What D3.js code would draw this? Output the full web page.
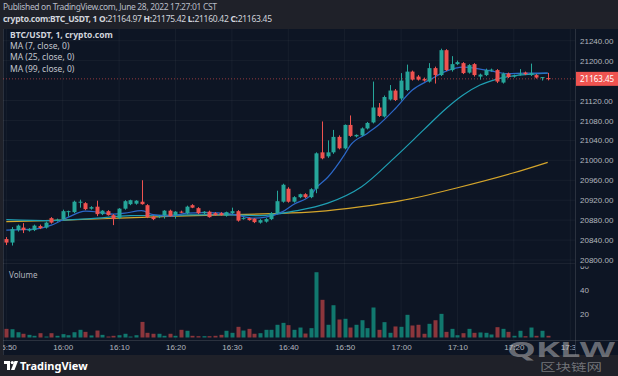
<!DOCTYPE html>
<html>
<head>
<meta charset="utf-8">
<script src="https://cdn.jsdelivr.net/npm/d3@7/dist/d3.min.js"></script>
<style>
body { margin: 0; background: #1f2129; }
svg { display: block; font-family: "Noto Sans", "DejaVu Sans", sans-serif; }
</style>
</head>
<body>
<script>
var w = 618;
var h = 376;

// 1 minute candles, first one at 15:50
var startTime = new Date(2022, 5, 28, 15, 50);

var opens = [20842,20835,20860,20865,20859,20860,20868,20865,20884,20879,
    20882,20896,20896,20916,20914,20903,20907,20892,20898,20890,
    20884,20903,20912,20913,20917,20910,20887,20886,20890,20899,
    20890,20897,20894,20910,20904,20894,20897,20894,20894,20889,
    20894,20898,20883,20884,20883,20875,20877,20882,20894,20917,
    20943,20917,20926,20932,20926,20943,21016,21008,21016,21047,
    21024,21071,21048,21050,21064,21076,21106,21088,21122,21140,
    21124,21141,21178,21168,21163,21158,21185,21171,21221,21181,
    21193,21195,21176,21193,21168,21171,21180,21181,21156,21174,
    21168,21172,21176,21171,21171,21165,21164.97];

var highs = [20846,20866,20871,20874,20864,20871,20871,20877,20886,20883,
    20901,20899,20919,20921,20916,20908,20919,20900,20900,20892,
    20904,20920,20921,20920,20960,20912,20889,20890,20900,20901,
    20898,20899,20909,20912,20906,20898,20899,20896,20896,20897,
    20905,20900,20886,20885,20884,20882,20884,20896,20939,20953,
    20946,20928,20933,20934,20944,21016,21078,21040,21061,21050,
    21072,21090,21052,21066,21077,21158,21115,21130,21151,21143,
    21175,21192,21180,21171,21166,21195,21188,21224,21223,21209,
    21200,21197,21193,21195,21174,21184,21184,21183,21176,21176,
    21172,21183,21178,21194,21173,21167,21175.42];

var lows = [20830,20829,20857,20854,20857,20858,20862,20863,20873,20877,
    20880,20887,20894,20905,20900,20901,20888,20890,20889,20870,
    20882,20901,20910,20911,20911,20884,20880,20884,20883,20887,
    20883,20894,20892,20904,20892,20892,20885,20889,20889,20887,
    20892,20877,20881,20879,20874,20873,20875,20880,20892,20915,
    20915,20915,20924,20924,20924,20934,21002,21005,21013,21022,
    21022,21047,21046,21048,21062,21074,21087,21086,21120,21119,
    21120,21139,21160,21160,21158,21156,21154,21169,21179,21178,
    21191,21173,21174,21168,21162,21169,21178,21155,21154,21165,
    21166,21170,21171,21169,21164,21160,21160.42];

var closes = [20835,20862,20869,20860,20862,20869,20864,20875,20875,20881,
    20898,20898,20917,20917,20902,20906,20892,20899,20890,20882,
    20903,20918,20920,20919,20912,20886,20882,20888,20899,20888,
    20897,20896,20907,20905,20894,20897,20886,20890,20890,20896,
    20898,20879,20884,20880,20876,20880,20882,20894,20918,20951,
    20917,20926,20932,20926,20942,21014,21004,21016,21047,21024,
    21071,21049,21051,21064,21075,21106,21089,21127,21140,21121,
    21160,21178,21162,21162,21160,21185,21171,21221,21181,21193,
    21197,21175,21191,21171,21172,21181,21182,21158,21174,21167,
    21170,21174,21173,21175,21166,21167,21163.45];

var volumes = [7.2,6.9,4.4,3.1,2.2,1.4,3.6,0.8,3.6,1.4,
    2.8,1.9,4.4,6.4,4.7,1.7,5.8,2.2,0.8,1.4,
    1.9,3.1,0.8,1.9,13,3.9,3.1,3.1,1.4,3.1,
    1.4,6.4,5.6,1.4,1.1,1.1,1.1,1.4,2.2,5.6,
    3.9,8.9,5.8,7.2,3.1,3.6,6.4,6.4,10.6,12.2,
    10.3,6.4,8.3,3.3,7.8,54.4,31.4,10.6,26.9,15,
    15.6,8.3,10.6,14.4,7.8,25,6.4,12.8,3.9,9.2,
    8.9,18.9,10,10.6,3.1,11.4,14.4,19.7,4.7,7.2,
    1.9,3.6,7.2,3.9,4.2,3.9,2.5,8.6,7.2,4.7,
    1.4,5.6,1.1,8.3,1.4,5.6,1.4];

// moving averages: [candle index, value]
var ma7 = [[0,20860],[5,20862],[8,20870],[11,20886],[14,20898],[17,20895],[19,20892],[21,20894],
    [24,20899],[26,20891],[29,20888],[32,20894],[35,20895],[40,20892],[44,20884],[46,20886],
    [49,20897],[51,20912],[54,20930],[55,20945],[57,20966],[60,21012],[61,21030],[64,21054],
    [66,21071],[69,21104],[72,21141],[75,21161],[78,21179],[81,21187],[84,21183],[86,21179],
    [89,21174],[92,21175],[96,21175]];
var ma25 = [[0,20881],[8,20879],[15,20883],[22,20889],[30,20890],[38,20891],[45,20889],[51,20898],
    [57,20914],[63,20947],[69,21007],[74,21061],[78,21104],[81,21131],[84,21151],[87,21163],
    [91,21171],[96,21175]];
var ma99 = [[0,20877],[10,20880],[20,20884],[30,20888],[40,20891],[47,20893],[55,20897],[63,20907],
    [70,20919],[80,20945],[90,20975],[96,20996]];

// 21160 sits under the last price label, so it is left out
var priceTicks = [20800,20840,20880,20920,20960,21000,21040,21080,21120,21200,21240];
var volumeTicks = [20, 40, 60];
var lastPrice = 21163.45;

var upColor = "#26a69a";
var downColor = "#ef5350";
var textColor = "#b2b5be";

var times = closes.map(function (d, i) {
    return d3.timeMinute.offset(startTime, i);
});

var svg = d3.select("body")
            .append("svg")
            .attr("width", w)
            .attr("height", h);

// backgrounds: header, chart and footer
svg.append("rect").attr("width", w).attr("height", h).attr("fill", "#1f2129");
svg.append("rect")
   .attr("x", 3).attr("y", 29)
   .attr("width", w - 3).attr("height", 326)
   .attr("fill", "#0d1524");

var defs = svg.append("defs");
defs.append("clipPath").attr("id", "plot")
    .append("rect").attr("x", 3).attr("y", 29).attr("width", 572).attr("height", 311);
defs.append("clipPath").attr("id", "timeclip")
    .append("rect").attr("x", 3).attr("y", 340).attr("width", 572).attr("height", 15);
// the top volume label is mostly hidden under the lowest price label
defs.append("clipPath").attr("id", "volclip")
    .append("rect").attr("x", 575).attr("y", 266.5).attr("width", 43).attr("height", 73);

// scales
var xScale = d3.scaleTime()
               .domain([times[0], times[times.length - 1]])
               .range([6.3, 547.7]);

var yScale = d3.scaleLinear()
               .domain([20800, 21240])
               .range([260, 40.7]);

var vScale = d3.scaleLinear()
               .domain([0, 60])
               .range([337.5, 265.5]);

// grid lines
var timeTicks = d3.timeMinute.every(10).range(times[0], d3.timeMinute.offset(times[0], 101));
var grid = svg.append("g").attr("clip-path", "url(#plot)");
grid.selectAll(".vg")
    .data(timeTicks)
    .enter()
    .append("line")
    .attr("x1", function (d) { return xScale(d); })
    .attr("x2", function (d) { return xScale(d); })
    .attr("y1", 29).attr("y2", 340)
    .attr("stroke", "rgba(255,255,255,0.045)");
grid.selectAll(".hg")
    .data(priceTicks)
    .enter()
    .append("line")
    .attr("x1", 3).attr("x2", 575)
    .attr("y1", function (d) { return yScale(d); })
    .attr("y2", function (d) { return yScale(d); })
    .attr("stroke", "rgba(255,255,255,0.045)");

// pane separators
svg.append("line").attr("x1", 3).attr("x2", 575).attr("y1", 263.5).attr("y2", 263.5).attr("stroke", "rgba(255,255,255,0.06)");
svg.append("line").attr("x1", 575.5).attr("x2", 575.5).attr("y1", 29).attr("y2", 355).attr("stroke", "rgba(255,255,255,0.12)");
svg.append("line").attr("x1", 3).attr("x2", 618).attr("y1", 340.5).attr("y2", 340.5).attr("stroke", "rgba(255,255,255,0.12)");
svg.append("line").attr("x1", 3.5).attr("x2", 3.5).attr("y1", 29).attr("y2", 355).attr("stroke", "rgba(255,255,255,0.12)");

var plot = svg.append("g").attr("clip-path", "url(#plot)");

// volume bars
plot.selectAll(".vol")
    .data(volumes)
    .enter()
    .append("rect")
    .attr("x", function (d, i) { return Math.round(xScale(times[i])) - 1.5; })
    .attr("y", function (d) { return vScale(d); })
    .attr("width", 4)
    .attr("height", function (d) { return vScale(0) - vScale(d); })
    .attr("fill", function (d, i) {
        return closes[i] >= opens[i] ? "#11786e" : "#8c363c";
    });

// moving average lines
var maLine = d3.line()
               .x(function (d) { return xScale(times[d[0]]); })
               .y(function (d) { return yScale(d[1]); })
               .curve(d3.curveMonotoneX);

plot.append("path").datum(ma99).attr("d", maLine)
    .attr("fill", "none").attr("stroke", "#d4a52b").attr("stroke-width", 1.2);
plot.append("path").datum(ma25).attr("d", maLine)
    .attr("fill", "none").attr("stroke", "#1f9fb3").attr("stroke-width", 1.2);
plot.append("path").datum(ma7).attr("d", maLine)
    .attr("fill", "none").attr("stroke", "#2c68c8").attr("stroke-width", 1.2);

// last price dotted line
plot.append("line")
    .attr("x1", 3).attr("x2", 575)
    .attr("y1", yScale(lastPrice)).attr("y2", yScale(lastPrice))
    .attr("stroke", downColor).attr("stroke-opacity", 0.6)
    .attr("stroke-dasharray", "1,2");

// candles: wick then body
var candles = plot.selectAll(".candle")
                  .data(closes)
                  .enter()
                  .append("g");

candles.append("line")
       .attr("x1", function (d, i) { return Math.round(xScale(times[i])) + 0.5; })
       .attr("x2", function (d, i) { return Math.round(xScale(times[i])) + 0.5; })
       .attr("y1", function (d, i) { return yScale(highs[i]); })
       .attr("y2", function (d, i) { return yScale(lows[i]); })
       .attr("stroke", function (d, i) { return d >= opens[i] ? upColor : downColor; });

candles.append("rect")
       .attr("x", function (d, i) { return Math.round(xScale(times[i])) - 1.5; })
       .attr("y", function (d, i) { return yScale(Math.max(d, opens[i])); })
       .attr("width", 4)
       .attr("height", function (d, i) {
           return Math.max(1, Math.abs(yScale(d) - yScale(opens[i])));
       })
       .attr("fill", function (d, i) { return d >= opens[i] ? upColor : downColor; });

// price axis
var yAxis = d3.axisRight(yScale)
              .tickValues(priceTicks)
              .tickSize(0)
              .tickPadding(5)
              .tickFormat(d3.format(".2f"));
var yAxisG = svg.append("g")
                .attr("transform", "translate(575,0)")
                .call(yAxis);
yAxisG.select(".domain").remove();
yAxisG.selectAll("text").attr("fill", textColor).style("font-size", "8px");

// volume axis (clip on an outer group so the clip box stays in page pixels)
var vAxis = d3.axisRight(vScale)
              .tickValues(volumeTicks)
              .tickSize(0)
              .tickPadding(5);
var vAxisG = svg.append("g")
                .attr("clip-path", "url(#volclip)")
                .append("g")
                .attr("transform", "translate(575,0)")
                .call(vAxis);
vAxisG.select(".domain").remove();
vAxisG.selectAll("text").attr("fill", textColor).style("font-size", "8px");

// time axis
var xAxis = d3.axisBottom(xScale)
              .tickValues(timeTicks)
              .tickSize(0)
              .tickPadding(4)
              .tickFormat(d3.timeFormat("%H:%M"));
var xAxisG = svg.append("g")
                .attr("clip-path", "url(#timeclip)")
                .append("g")
                .attr("transform", "translate(0,340)")
                .call(xAxis);
xAxisG.select(".domain").remove();
xAxisG.selectAll("text").attr("fill", textColor).style("font-size", "8px");

// last price label
svg.append("rect")
   .attr("x", 576).attr("y", yScale(lastPrice) - 7)
   .attr("width", 42).attr("height", 14)
   .attr("fill", downColor);
svg.append("text")
   .attr("x", 580).attr("y", yScale(lastPrice) + 3)
   .attr("fill", "#ffffff")
   .style("font-size", "8px")
   .text(d3.format(".2f")(lastPrice));

// header texts
svg.append("text")
   .attr("x", 3).attr("y", 10)
   .attr("fill", "#b8bcc6")
   .style("font-size", "8.5px")
   .attr("textLength", 214)
   .text("Published on TradingView.com, June 28, 2022 17:27:01 CST");

var ohlc = svg.append("text")
              .attr("x", 3).attr("y", 22)
              .attr("fill", "#d1d4dc")
              .style("font-size", "8.5px")
              .attr("textLength", 269);
ohlc.append("tspan").attr("font-weight", "bold").text("crypto.com:BTC_USDT, 1  O:");
ohlc.append("tspan").text(opens[96].toFixed(2) + " ");
ohlc.append("tspan").attr("font-weight", "bold").text("H:");
ohlc.append("tspan").text(highs[96].toFixed(2) + " ");
ohlc.append("tspan").attr("font-weight", "bold").text("L:");
ohlc.append("tspan").text(lows[96].toFixed(2) + " ");
ohlc.append("tspan").attr("font-weight", "bold").text("C:");
ohlc.append("tspan").text(closes[96].toFixed(2));

// legend
var legend = ["MA (7, close, 0)", "MA (25, close, 0)", "MA (99, close, 0)"];
svg.append("text")
   .attr("x", 10).attr("y", 38)
   .attr("fill", "#d1d4dc")
   .attr("font-weight", "bold")
   .style("font-size", "8.5px")
   .text("BTC/USDT, 1, crypto.com");
svg.selectAll(".legend")
   .data(legend)
   .enter()
   .append("text")
   .attr("x", 10)
   .attr("y", function (d, i) { return 49 + i * 11.3; })
   .attr("fill", "#c3c6ce")
   .style("font-size", "8.5px")
   .text(function (d) { return d; });

svg.append("text")
   .attr("x", 9).attr("y", 278)
   .attr("fill", textColor)
   .style("font-size", "8px")
   .text("Volume");

// footer logo
var logo = svg.append("g").attr("transform", "translate(4,361)");
logo.append("path").attr("d", "M0,0 H6 V9 H3 V3 H0 Z").attr("fill", "#ffffff");
logo.append("circle").attr("cx", 8.3).attr("cy", 1.6).attr("r", 1.6).attr("fill", "#ffffff");
logo.append("path").attr("d", "M10.5,0 H14 L10.5,9 H7 Z").attr("fill", "#ffffff");
svg.append("text")
   .attr("x", 20).attr("y", 370)
   .attr("fill", "#ffffff")
   .attr("font-weight", "bold")
   .style("font-size", "11px")
   .text("TradingView");

// watermark over the bottom right corner
svg.append("text")
   .attr("x", 507).attr("y", 357)
   .attr("fill", "rgba(215,215,215,0.45)")
   .attr("font-weight", "bold")
   .style("font-size", "22px")
   .attr("textLength", 108)
   .attr("lengthAdjust", "spacingAndGlyphs")
   .text("QKLW");
svg.append("text")
   .attr("x", 540).attr("y", 371)
   .attr("fill", "rgba(215,215,215,0.45)")
   .style("font-size", "10px")
   .style("font-family", "'Noto Sans CJK SC', sans-serif")
   .attr("textLength", 62)
   .attr("lengthAdjust", "spacingAndGlyphs")
   .text("区块链网");
</script>
</body>
</html>
